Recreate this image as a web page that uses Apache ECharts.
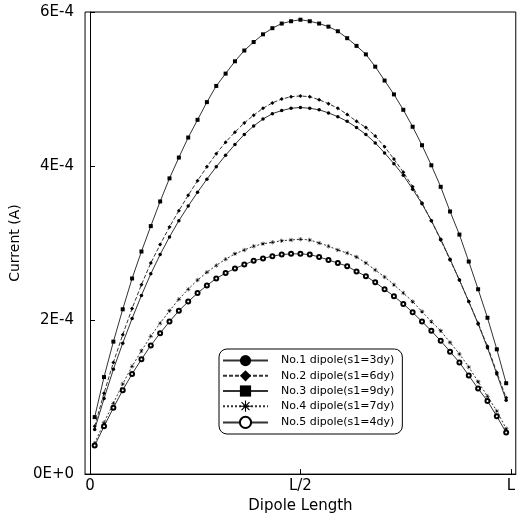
<!DOCTYPE html>
<html>
<head>
<meta charset="utf-8">
<script src="https://cdn.jsdelivr.net/npm/echarts@6/dist/echarts.min.js"></script>
<style>
  html, body { margin: 0; padding: 0; background: #fff; }
  #chart { width: 518px; height: 519px; }
</style>
</head>
<body>
<div id="chart"></div>
<script>
// current along the dipole, 45 segments, values in units of 1E-4 A
const segments = 45;
const no1 = [0.58, 0.98, 1.36, 1.70, 2.02, 2.32, 2.60, 2.85, 3.08, 3.29, 3.48, 3.66, 3.83, 3.99, 4.14, 4.28, 4.41, 4.52, 4.61, 4.68, 4.72, 4.75, 4.76,
  4.75, 4.73, 4.69, 4.64, 4.58, 4.50, 4.41, 4.30, 4.17, 4.03, 3.88, 3.70, 3.51, 3.29, 3.05, 2.79, 2.52, 2.24, 1.95, 1.64, 1.30, 0.96];
const no2 = [0.62, 1.05, 1.45, 1.81, 2.15, 2.46, 2.74, 2.98, 3.21, 3.42, 3.62, 3.81, 3.99, 4.16, 4.31, 4.44, 4.56, 4.66, 4.75, 4.82, 4.87, 4.90, 4.91,
  4.90, 4.86, 4.81, 4.75, 4.67, 4.58, 4.50, 4.39, 4.25, 4.09, 3.92, 3.73, 3.52, 3.29, 3.04, 2.78, 2.52, 2.24, 1.96, 1.66, 1.32, 0.99];
const no3 = [0.74, 1.26, 1.72, 2.14, 2.54, 2.89, 3.22, 3.54, 3.84, 4.11, 4.37, 4.60, 4.83, 5.04, 5.20, 5.36, 5.50, 5.61, 5.71, 5.79, 5.85, 5.88, 5.90,
  5.88, 5.85, 5.81, 5.75, 5.66, 5.56, 5.45, 5.29, 5.11, 4.93, 4.73, 4.51, 4.27, 4.01, 3.73, 3.41, 3.11, 2.76, 2.40, 2.03, 1.62, 1.18];
const no4 = [0.40, 0.67, 0.92, 1.17, 1.40, 1.60, 1.79, 1.96, 2.12, 2.27, 2.40, 2.52, 2.62, 2.71, 2.79, 2.86, 2.91, 2.96, 2.99, 3.01, 3.03, 3.04, 3.05,
  3.04, 3.00, 2.96, 2.91, 2.87, 2.82, 2.74, 2.65, 2.56, 2.46, 2.35, 2.24, 2.11, 1.98, 1.86, 1.71, 1.56, 1.39, 1.20, 1.01, 0.82, 0.59];
const no5 = [0.37, 0.62, 0.86, 1.09, 1.30, 1.49, 1.67, 1.83, 1.98, 2.12, 2.24, 2.35, 2.45, 2.54, 2.61, 2.67, 2.72, 2.77, 2.80, 2.83, 2.85, 2.86, 2.86,
  2.85, 2.82, 2.78, 2.74, 2.70, 2.63, 2.57, 2.49, 2.40, 2.31, 2.21, 2.10, 1.98, 1.86, 1.73, 1.59, 1.45, 1.28, 1.11, 0.95, 0.75, 0.54];

const seriesNames = ['No.1 dipole(s1=3dy)', 'No.2 dipole(s1=6dy)', 'No.3 dipole(s1=9dy)', 'No.4 dipole(s1=7dy)', 'No.5 dipole(s1=4dy)'];
const xTickValues = [0, 0.5, 1];
const xTickLabels = ['0', 'L/2', 'L'];
const yTickLabels = ['0E+0', '2E-4', '4E-4', '6E-4'];

const asterisk = 'path://M-100 -10L100 -10L100 10L-100 10ZM-10 -100L10 -100L10 100L-10 100Z'
  + 'M-64 -78L78 64L64 78L-78 -64ZM-78 64L64 -78L78 -64L-64 78Z';

const styles = [
  { symbol: 'circle', size: 3.5, dash: 'solid' },
  { symbol: 'diamond', size: 4, dash: [4, 2] },
  { symbol: 'rect', size: 4, dash: 'solid' },
  { symbol: asterisk, size: 4.5, dash: [2, 2] },
  { symbol: 'emptyCircle', size: 4, dash: 'solid' },
];

const font = 'DejaVu Sans';
const toPoints = (vals) => vals.map((v, i) => [(i + 0.5) / segments, v]);

const series = [no1, no2, no3, no4, no5].map((vals, k) => ({
  name: seriesNames[k],
  type: 'line',
  symbol: styles[k].symbol,
  symbolSize: styles[k].size,
  itemStyle: { color: '#000', borderColor: '#000', borderWidth: styles[k].symbol === 'emptyCircle' ? 1 : 0 },
  lineStyle: { color: '#333', width: 1, type: styles[k].dash },
  animation: false,
  data: toPoints(vals),
}));

const option = {
  backgroundColor: '#fff',
  grid: {
    left: 83,
    right: 1,
    top: 12,
    bottom: 44,
    show: true,
    borderColor: '#000',
    borderWidth: 1,
  },
  legend: {
    orient: 'vertical',
    left: 219,
    top: 349,
    padding: [6, 8, 5, 3],
    itemGap: 4,
    itemWidth: 45,
    itemHeight: 14,
    borderColor: '#000',
    borderWidth: 1,
    borderRadius: 8,
    selectedMode: false,
    textStyle: { fontFamily: font, fontSize: 11, color: '#000', padding: [0, 0, 0, 8] },
    data: seriesNames,
  },
  xAxis: {
    type: 'value',
    min: -0.0118,
    max: 1.0117,
    name: 'Dipole Length',
    nameLocation: 'middle',
    nameGap: 20,
    nameTextStyle: { fontFamily: font, fontSize: 15, color: '#000' },
    axisLine: { lineStyle: { color: '#000', width: 1 } },
    axisTick: { inside: true, length: 5, customValues: xTickValues, lineStyle: { color: '#000' } },
    axisLabel: {
      customValues: xTickValues,
      margin: 5,
      fontFamily: font,
      fontSize: 15,
      color: '#000',
      formatter: (v) => xTickLabels[xTickValues.indexOf(v)],
    },
    splitLine: { show: false },
  },
  yAxis: {
    type: 'value',
    min: 0,
    max: 6,
    interval: 2,
    name: 'Current (A)',
    nameLocation: 'middle',
    nameGap: 58,
    nameTextStyle: { fontFamily: font, fontSize: 14, color: '#000' },
    axisLine: { show: true, lineStyle: { color: '#000', width: 1 } },
    axisTick: { inside: true, length: 5, lineStyle: { color: '#000' } },
    axisLabel: {
      margin: 11,
      fontFamily: font,
      fontSize: 15,
      color: '#000',
      formatter: (v) => yTickLabels[Math.round(v / 2)],
    },
    splitLine: { show: false },
  },
  series,
};

const myChart = echarts.init(document.getElementById('chart'));
myChart.setOption(option);
</script>
</body>
</html>
